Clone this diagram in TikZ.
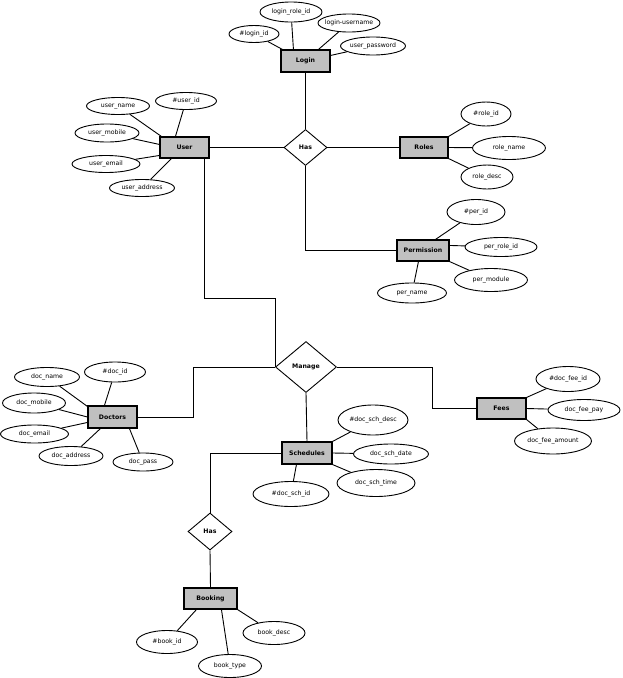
\documentclass[tikz,border=0pt]{standalone}
\usepackage{fontspec}
\setmainfont{DejaVu Sans}
\usetikzlibrary{shapes.geometric,calc}
\definecolor{entgray}{RGB}{192,192,192}
\newcommand\zt[1]{\makebox[0pt]{#1}}
\begin{document}
\begin{tikzpicture}[x=1pt,y=-1pt,
  attr/.style={ellipse,draw,line width=0.9pt,inner sep=0pt,font=\fontsize{6.2}{7}\selectfont},
  ent/.style={rectangle,draw,fill=entgray,line width=1.1pt,inner sep=0pt,font=\fontsize{6.2}{7}\selectfont\bfseries},
  rel/.style={diamond,draw,fill=white,line width=0.9pt,inner sep=0pt,shape aspect=1.2,font=\fontsize{6.2}{7}\selectfont\bfseries},
  conn/.style={line width=0.9pt}]
\useasboundingbox[fill=white] (0,0) rectangle (623,678);

% entities
\node[ent,minimum width=49pt,minimum height=22pt] (login) at (305.5,61) {Login};
\node[ent,minimum width=49pt,minimum height=21pt] (user) at (184.5,147.5) {User};
\node[ent,minimum width=48pt,minimum height=21pt] (roles) at (424,147.5) {Roles};
\node[ent,minimum width=52pt,minimum height=21pt] (perm) at (423,250.5) {Permission};
\node[ent,minimum width=49pt,minimum height=22pt] (doctors) at (112.5,417) {Doctors};
\node[ent,minimum width=49pt,minimum height=21pt] (fees) at (501.5,408.5) {Fees};
\node[ent,minimum width=50pt,minimum height=22pt] (sched) at (307,453) {Schedules};
\node[ent,minimum width=53pt,minimum height=21pt] (booking) at (210.5,598.5) {Booking};

% relationships
\node[rel,minimum width=43pt,minimum height=36pt] (has) at (305.5,147.5) {Has};
\node[rel,minimum width=61pt,minimum height=51pt] (manage) at (306,367) {Manage};
\node[rel,minimum width=44pt,minimum height=37pt] (has2) at (210,531.5) {Has};

% attributes: Login
\node[attr,minimum width=50pt,minimum height=17pt] (loginid) at (254,34) {\zt{\#login\_id}};
\node[attr,minimum width=62pt,minimum height=20pt] (loginrole) at (291,12) {\zt{login\_role\_id}};
\node[attr,minimum width=62pt,minimum height=18pt] (loginuser) at (349,23) {\zt{login-username}};
\node[attr,minimum width=65pt,minimum height=18pt] (userpass) at (373,46) {\zt{user\_password}};
% User
\node[attr,minimum width=63pt,minimum height=17pt] (username) at (118,106) {\zt{user\_name}};
\node[attr,minimum width=61pt,minimum height=17pt] (userid) at (186,101) {\zt{\#user\_id}};
\node[attr,minimum width=64pt,minimum height=18pt] (usermobile) at (107,133) {\zt{user\_mobile}};
\node[attr,minimum width=68pt,minimum height=17pt] (useremail) at (106,164) {\zt{user\_email}};
\node[attr,minimum width=65pt,minimum height=17pt] (useraddr) at (142,188) {\zt{user\_address}};
% Roles
\node[attr,minimum width=50pt,minimum height=24pt] (roleid) at (486,114) {\zt{\#role\_id}};
\node[attr,minimum width=73pt,minimum height=23pt] (rolename) at (509,148) {\zt{role\_name}};
\node[attr,minimum width=52pt,minimum height=24pt] (roledesc) at (487,177) {\zt{role\_desc}};
% Permission
\node[attr,minimum width=58pt,minimum height=25pt] (perid) at (476,212) {\zt{\#per\_id}};
\node[attr,minimum width=72pt,minimum height=19pt] (perroleid) at (501,247) {\zt{per\_role\_id}};
\node[attr,minimum width=73pt,minimum height=23pt] (permodule) at (491,280) {\zt{per\_module}};
\node[attr,minimum width=69pt,minimum height=20pt] (pername) at (412,293) {\zt{per\_name}};
% Doctors
\node[attr,minimum width=65pt,minimum height=19pt] (docname) at (47,377) {\zt{doc\_name}};
\node[attr,minimum width=61pt,minimum height=20pt] (docid) at (115,372) {\zt{\#doc\_id}};
\node[attr,minimum width=63pt,minimum height=20pt] (docmobile) at (34,403) {\zt{doc\_mobile}};
\node[attr,minimum width=68pt,minimum height=18pt] (docemail) at (34.5,434) {\zt{doc\_email}};
\node[attr,minimum width=64pt,minimum height=19pt] (docaddr) at (71,456) {\zt{doc\_address}};
\node[attr,minimum width=60pt,minimum height=18pt] (docpass) at (143,462) {\zt{doc\_pass}};
% Fees
\node[attr,minimum width=64pt,minimum height=25pt] (feeid) at (568,379) {\zt{\#doc\_fee\_id}};
\node[attr,minimum width=72pt,minimum height=21pt] (feepay) at (584,410) {\zt{doc\_fee\_pay}};
\node[attr,minimum width=77pt,minimum height=26pt] (feeamount) at (553,441) {\zt{doc\_fee\_amount}};
% Schedules
\node[attr,minimum width=70pt,minimum height=30pt] (schdesc) at (373,420) {\zt{\#doc\_sch\_desc}};
\node[attr,minimum width=75pt,minimum height=20pt] (schdate) at (391,454) {\zt{doc\_sch\_date}};
\node[attr,minimum width=78pt,minimum height=27pt] (schtime) at (376,483) {\zt{doc\_sch\_time}};
\node[attr,minimum width=76pt,minimum height=25pt] (schid) at (291,494) {\zt{\#doc\_sch\_id}};
% Booking
\node[attr,minimum width=61pt,minimum height=23pt] (bookid) at (167,642) {\zt{\#book\_id}};
\node[attr,minimum width=63pt,minimum height=23pt] (booktype) at (230,666) {\zt{book\_type}};
\node[attr,minimum width=62pt,minimum height=23pt] (bookdesc) at (274,633) {\zt{book\_desc}};

% attribute connectors
\draw[conn] (loginid) -- ($(login.north west)+(2,0)$);
\draw[conn] (loginrole) -- ($(login.north west)+(13,0)$);
\draw[conn] (loginuser) -- ($(login.north west)+(38,0)$);
\draw[conn] (userpass) -- ($(login.north east)+(0,6)$);

\draw[conn] (username) -- ($(user.north west)+(2,0)$);
\draw[conn] (userid) -- ($(user.north west)+(16,0)$);
\draw[conn] (usermobile) -- ($(user.north west)+(0,8)$);
\draw[conn] (useremail) -- ($(user.north west)+(0,19)$);
\draw[conn] (useraddr) -- ($(user.south west)+(12,0)$);

\draw[conn] (roleid) -- (roles.north east);
\draw[conn] (rolename) -- (roles.east);
\draw[conn] (roledesc) -- (roles.south east);

\draw[conn] (perid) -- ($(perm.north west)+(39,0)$);
\draw[conn] (perroleid) -- ($(perm.north east)+(0,6)$);
\draw[conn] (permodule) -- (perm.south east);
\draw[conn] (pername) -- ($(perm.south west)+(22,0)$);

\draw[conn] (docname) -- ($(doctors.north west)+(0,1)$);
\draw[conn] (docid) -- ($(doctors.north west)+(17,0)$);
\draw[conn] (docmobile) -- (doctors.west);
\draw[conn] (docemail) -- ($(doctors.north west)+(0,17)$);
\draw[conn] (docaddr) -- ($(doctors.south west)+(13,0)$);
\draw[conn] (docpass) -- ($(doctors.south west)+(42,0)$);

\draw[conn] (feeid) -- (fees.north east);
\draw[conn] (feepay) -- (fees.east);
\draw[conn] (feeamount) -- (fees.south east);

\draw[conn] (schdesc) -- (sched.north east);
\draw[conn] (schdate) -- (sched.east);
\draw[conn] (schtime) -- (sched.south east);
\draw[conn] (schid) -- ($(sched.south west)+(15,0)$);

\draw[conn] (bookid) -- ($(booking.south west)+(13,0)$);
\draw[conn] (booktype) -- ($(booking.south west)+(38,0)$);
\draw[conn] (bookdesc) -- (booking.south east);

% relationship connectors
\draw[conn] (login.south) -- (has.north);
\draw[conn] (has.west) -- (user.east);
\draw[conn] (has.east) -- (roles.west);
\draw[conn] (has.south) |- (perm.west);
\draw[conn] ($(user.south east)+(-5,0)$) -- ++(0,139.5) -| (manage.west);
\draw[conn] (doctors.east) -- ++(56,0) |- (manage.west);
\draw[conn] (manage.east) -- ++(95,0) |- (fees.west);
\draw[conn] (manage.south) -- (sched.north);
\draw[conn] (sched.west) -| (has2.north);
\draw[conn] (has2.south) -- (booking.north);
\end{tikzpicture}
\end{document}
